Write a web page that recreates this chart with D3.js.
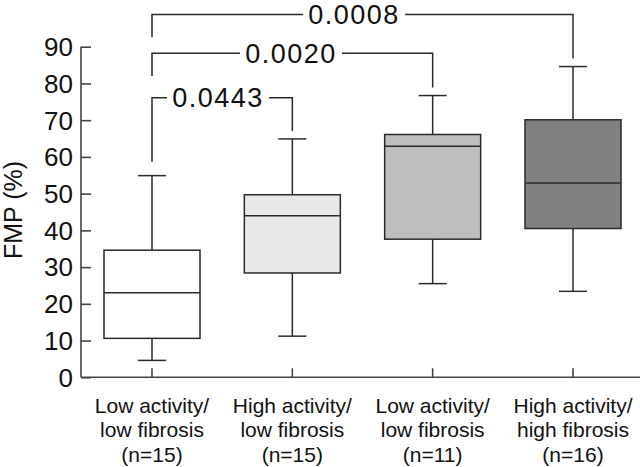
<!DOCTYPE html>
<html><head><meta charset="utf-8">
<script src="https://cdn.jsdelivr.net/npm/d3@7"></script>
<style>body{margin:0;background:#fff}svg{display:block}text{font-family:"Liberation Sans",Arial,sans-serif;fill:#111}</style>
</head><body>
<svg id="c" width="640" height="467"></svg>
<script>
const categories = [["Low activity/","low fibrosis","(n=15)"],["High activity/","low fibrosis","(n=15)"],["Low activity/","low fibrosis","(n=11)"],["High activity/","high fibrosis","(n=16)"]];
const whiskerLow = [4.6, 11.2, 25.5, 23.4];
const q1 = [10.6, 28.4, 37.6, 40.5];
const median = [23.0, 44.0, 62.9, 52.9];
const q3 = [34.6, 49.7, 66.1, 70.1];
const whiskerHigh = [54.9, 64.9, 76.7, 84.6];
const fills = ["#ffffff", "#e8e8e8", "#bebebe", "#808080"];
const yTicks = [0,10,20,30,40,50,60,70,80,90];
const comparisons = [
  {from:0, to:1, label:"0.0443", level:0},
  {from:0, to:2, label:"0.0020", level:1},
  {from:0, to:3, label:"0.0008", level:2}
];

const svg = d3.select("#c");
const stroke = "#2a2a2a";
const y = d3.scaleLinear().domain([0,90]).range([377.3, 46.7]);
const x = d3.scalePoint().domain(d3.range(4)).range([152, 573]);
const boxW = 96, capW = 28;

// y axis
const ya = svg.append("g").attr("transform","translate(81,0)")
  .call(d3.axisRight(y).tickValues(yTicks).tickSize(10).tickFormat(""));
ya.select(".domain").attr("stroke","#444").attr("stroke-width",1.6).attr("d", `M0,${y(90)}V${y(0)}`);
ya.selectAll(".tick line").attr("stroke","#444").attr("stroke-width",1.6);
svg.append("g").selectAll("text").data(yTicks).join("text")
  .attr("x",73).attr("y",d=>y(d)).attr("dy","0.36em").attr("text-anchor","end")
  .style("font-size","26px").text(d=>d);

// x axis
svg.append("line").attr("x1",81).attr("x2",640).attr("y1",y(0)).attr("y2",y(0))
  .attr("stroke","#444").attr("stroke-width",1.6);
svg.append("g").selectAll("line").data(d3.range(4)).join("line")
  .attr("x1",d=>x(d)).attr("x2",d=>x(d)).attr("y1",y(0)).attr("y2",y(0)-9)
  .attr("stroke","#444").attr("stroke-width",1.6);

// x labels
const xl = svg.append("g").selectAll("text").data(categories).join("text")
  .attr("text-anchor","middle").style("font-size","21px");
xl.each(function(lines,i){
  d3.select(this).selectAll("tspan").data(lines).join("tspan")
    .attr("x",x(i)).attr("y",(d,j)=>413+j*24.3).text(d=>d);
});

// y label
svg.append("text").attr("transform","translate(22,210) rotate(-90)")
  .attr("text-anchor","middle").style("font-size","25px").text("FMP (%)");

// boxes
const g = svg.append("g").selectAll("g").data(d3.range(4)).join("g");
g.append("line").attr("x1",i=>x(i)).attr("x2",i=>x(i)).attr("y1",i=>y(whiskerHigh[i])).attr("y2",i=>y(q3[i])).attr("stroke",stroke).attr("stroke-width",1.5);
g.append("line").attr("x1",i=>x(i)).attr("x2",i=>x(i)).attr("y1",i=>y(q1[i])).attr("y2",i=>y(whiskerLow[i])).attr("stroke",stroke).attr("stroke-width",1.5);
g.append("line").attr("x1",i=>x(i)-capW/2).attr("x2",i=>x(i)+capW/2).attr("y1",i=>y(whiskerHigh[i])).attr("y2",i=>y(whiskerHigh[i])).attr("stroke",stroke).attr("stroke-width",1.5);
g.append("line").attr("x1",i=>x(i)-capW/2).attr("x2",i=>x(i)+capW/2).attr("y1",i=>y(whiskerLow[i])).attr("y2",i=>y(whiskerLow[i])).attr("stroke",stroke).attr("stroke-width",1.5);
g.append("rect").attr("x",i=>x(i)-boxW/2).attr("width",boxW).attr("y",i=>y(q3[i])).attr("height",i=>y(q1[i])-y(q3[i]))
  .attr("fill",i=>fills[i]).attr("stroke",stroke).attr("stroke-width",1.5);
g.append("line").attr("x1",i=>x(i)-boxW/2).attr("x2",i=>x(i)+boxW/2).attr("y1",i=>y(median[i])).attr("y2",i=>y(median[i])).attr("stroke",stroke).attr("stroke-width",1.5);

// comparison brackets
const levelY = [97.7, 53.3, 14.5];
const leftDrop = [161.7, 76, 37.3];
const textX = [218, 291, 354];
const gapHalf = [51, 51, 51];
comparisons.forEach(c=>{
  const ly = levelY[c.level];
  const x1 = x(c.from), x2 = x(c.to);
  const rightEnd = y(whiskerHigh[c.to]) - 8;
  const path = `M${x1},${leftDrop[c.level]}V${ly}H${textX[c.level]-gapHalf[c.level]}M${textX[c.level]+gapHalf[c.level]},${ly}H${x2}V${rightEnd}`;
  svg.append("path").attr("d",path).attr("fill","none").attr("stroke",stroke).attr("stroke-width",1.5);
  svg.append("text").attr("x",textX[c.level]).attr("y",ly).attr("dy","0.36em").attr("text-anchor","middle")
    .style("font-size","27px").style("letter-spacing","1.5px").text(c.label);
});
</script>
</body></html>
